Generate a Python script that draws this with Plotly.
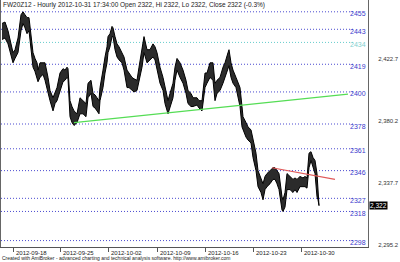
import plotly.graph_objects as go

# ---- data (hourly FW20Z12, bar position index, high / low) ----
bar_pos = [2, 5, 8, 10, 13, 15, 18, 21, 23, 25, 27, 29, 32, 33, 35, 37, 38, 40, 43, 45,
           48, 50, 53, 55, 57, 60, 63, 65, 67, 68, 70, 72, 74, 77, 80, 83, 86, 88, 91, 93,
           95, 97, 99, 100, 102, 103, 105, 107, 108, 110, 112, 113, 115, 117, 119, 122, 124, 127, 129, 132,
           134, 137, 139, 142, 144, 147, 150, 153, 155, 157, 160, 163, 165, 168, 170, 173, 175, 177, 180, 183,
           186, 188, 191, 193, 197, 199, 202, 205, 207, 210, 213, 215, 217, 220, 223, 225, 228, 229, 231, 233,
           236, 238, 240, 242, 243, 246, 248, 251, 253, 256, 258, 261, 263, 265, 267, 270, 273, 275, 277, 279,
           282, 283, 285, 287, 290, 293, 295, 297, 300, 303, 305, 307, 309, 311, 313, 315, 317, 318, 319]
highs = [2447, 2448, 2442, 2436, 2427, 2429, 2437, 2453, 2455, 2453, 2451, 2451, 2433, 2427, 2423, 2420, 2415, 2420, 2420, 2420,
         2410, 2401, 2396, 2399, 2403, 2413, 2416, 2415, 2417, 2416, 2394, 2390, 2387, 2385, 2396, 2394, 2392, 2406, 2408, 2399,
         2398, 2396, 2394, 2403, 2410, 2415, 2424, 2431, 2438, 2440, 2445, 2444, 2438, 2433, 2431, 2427, 2424, 2415, 2413, 2410,
         2409, 2408, 2417, 2431, 2438, 2429, 2429, 2433, 2431, 2427, 2417, 2410, 2403, 2394, 2399, 2406, 2417, 2423, 2420, 2415,
         2408, 2401, 2399, 2396, 2396, 2394, 2394, 2413, 2413, 2420, 2420, 2406, 2408, 2410, 2417, 2420, 2427, 2429, 2420, 2415,
         2410, 2406, 2403, 2390, 2383, 2379, 2376, 2374, 2367, 2358, 2346, 2340, 2337, 2342, 2344, 2346, 2348, 2348, 2346, 2344,
         2328, 2326, 2331, 2344, 2342, 2340, 2341, 2340, 2342, 2341, 2342, 2341, 2358, 2359, 2355, 2353, 2344, 2333, 2322]
lows = [2436, 2437, 2433, 2427, 2420, 2423, 2427, 2442, 2447, 2444, 2440, 2442, 2422, 2417, 2414, 2408, 2407, 2410, 2412, 2408,
        2399, 2394, 2387, 2392, 2394, 2401, 2407, 2408, 2410, 2409, 2383, 2379, 2377, 2379, 2385, 2385, 2383, 2396, 2399, 2390,
        2389, 2387, 2385, 2394, 2401, 2403, 2413, 2420, 2427, 2431, 2438, 2438, 2429, 2424, 2422, 2420, 2415, 2403, 2403, 2401,
        2400, 2401, 2408, 2417, 2427, 2420, 2422, 2424, 2422, 2415, 2406, 2401, 2392, 2385, 2390, 2396, 2408, 2415, 2410, 2406,
        2399, 2392, 2390, 2390, 2391, 2389, 2387, 2403, 2406, 2410, 2408, 2394, 2399, 2401, 2406, 2410, 2415, 2418, 2410, 2406,
        2403, 2396, 2390, 2376, 2374, 2369, 2367, 2365, 2355, 2346, 2335, 2331, 2326, 2333, 2335, 2337, 2340, 2340, 2337, 2333,
        2319, 2318, 2321, 2333, 2333, 2331, 2333, 2331, 2335, 2335, 2335, 2334, 2348, 2353, 2348, 2344, 2328, 2326, 2322]

level_values = [2455, 2443, 2434, 2419, 2400, 2378, 2361, 2346, 2327, 2318, 2298]
level_labels = ["2455", "2443", "2434", "2419", "2400", "2378", "2361", "2346", "2327", "2318", "2298"]
cyan_level = 2434

support_x = [74, 348]
support_y = [2379, 2398.5]
resist_x = [272, 335]
resist_y = [2348, 2340]

date_pos = [13, 60, 108, 157, 205, 253, 301]
date_labels = ["2012-09-18", "2012-09-25", "2012-10-02", "2012-10-09",
               "2012-10-16", "2012-10-23", "2012-10-30"]

axis_ticks = [2295.2, 2337.7, 2380.2, 2422.7]
axis_tick_text = ["2,295.2", "2,337.7", "2,380.2", "2,422.7"]
last_close = 2322
last_close_text = "2,322"

title_text = "FW20Z12 - Hourly 2012-10-31 17:34:00 Open 2322, Hi 2322, Lo 2322, Close 2322 (-0.3%)"
footer_text = "Created with AmiBroker - advanced charting and technical analysis software. http://www.amibroker.com"

FONT = "Arial, Liberation Sans, sans-serif"

fig = go.Figure()

# price band (low then high filled)
fig.add_trace(go.Scatter(x=bar_pos, y=lows, mode="lines",
                         line=dict(color="#000000", width=1), hoverinfo="skip"))
fig.add_trace(go.Scatter(x=bar_pos, y=highs, mode="lines", fill="tonexty",
                         fillcolor="#2b2b2b",
                         line=dict(color="#000000", width=1), hoverinfo="skip"))

# trend lines
fig.add_trace(go.Scatter(x=support_x, y=support_y, mode="lines",
                         line=dict(color="#55dd55", width=1.2), hoverinfo="skip"))
fig.add_trace(go.Scatter(x=resist_x, y=resist_y, mode="lines",
                         line=dict(color="#e05a5a", width=1.2), hoverinfo="skip"))

shapes = []
annotations = []
for v, lab in zip(level_values, level_labels):
    col = "#66cccc" if v == cyan_level else "#4a4ad0"
    shapes.append(dict(type="line", xref="x", yref="y", x0=1, x1=353, y0=v, y1=v,
                       line=dict(color=col, width=1, dash="1px,2px"), layer="below"))
    annotations.append(dict(x=368, y=v, xref="x", yref="y", text=lab, showarrow=False,
                            xanchor="right", yanchor="middle", yshift=-2,
                            font=dict(family=FONT, size=7, color="#7fd0d0" if v == cyan_level else "#3a3acc")))

for p, lab in zip(date_pos, date_labels):
    annotations.append(dict(x=p, y=0, xref="x", yref="paper", text=lab, showarrow=False,
                            xanchor="left", yanchor="top", xshift=1, yshift=-1,
                            font=dict(family=FONT, size=6, color="#222222")))

annotations.append(dict(x=0, y=1, xref="paper", yref="paper", text=title_text, showarrow=False,
                        xanchor="left", yanchor="top", xshift=1, yshift=0, borderpad=0,
                        font=dict(family=FONT, size=6.5, color="#222222")))
annotations.append(dict(x=0, y=0, xref="paper", yref="paper", text=footer_text, showarrow=False,
                        xanchor="left", yanchor="bottom", yshift=-16, xshift=-1,
                        font=dict(family=FONT, size=5, color="#222222")))
annotations.append(dict(x=1, y=last_close, xref="paper", yref="y", text=last_close_text, showarrow=False,
                        xanchor="left", yanchor="middle", xshift=1,
                        bgcolor="#000000", borderpad=0,
                        font=dict(family=FONT, size=6.5, color="#ffffff")))

fig.update_layout(
    width=400, height=262,
    margin=dict(l=1, r=32, t=0, b=15),
    paper_bgcolor="#ffffff", plot_bgcolor="#ffffff",
    showlegend=False,
    shapes=shapes, annotations=annotations,
    xaxis=dict(range=[1, 368], showgrid=False, zeroline=False,
               showline=True, linecolor="#555555", linewidth=1,
               tickmode="array", tickvals=date_pos, ticktext=[""] * len(date_pos),
               ticks="outside", ticklen=4, tickcolor="#555555", tickwidth=1),
    yaxis=dict(range=[2293.6, 2463.1], side="right", showgrid=False, zeroline=False,
               showline=True, mirror=True, linecolor="#666666", linewidth=1,
               tickmode="array", tickvals=axis_ticks, ticktext=axis_tick_text,
               ticks="", ticklabelstandoff=8,
               tickfont=dict(family=FONT, size=6, color="#333333")),
)

fig.write_html("out.html")
